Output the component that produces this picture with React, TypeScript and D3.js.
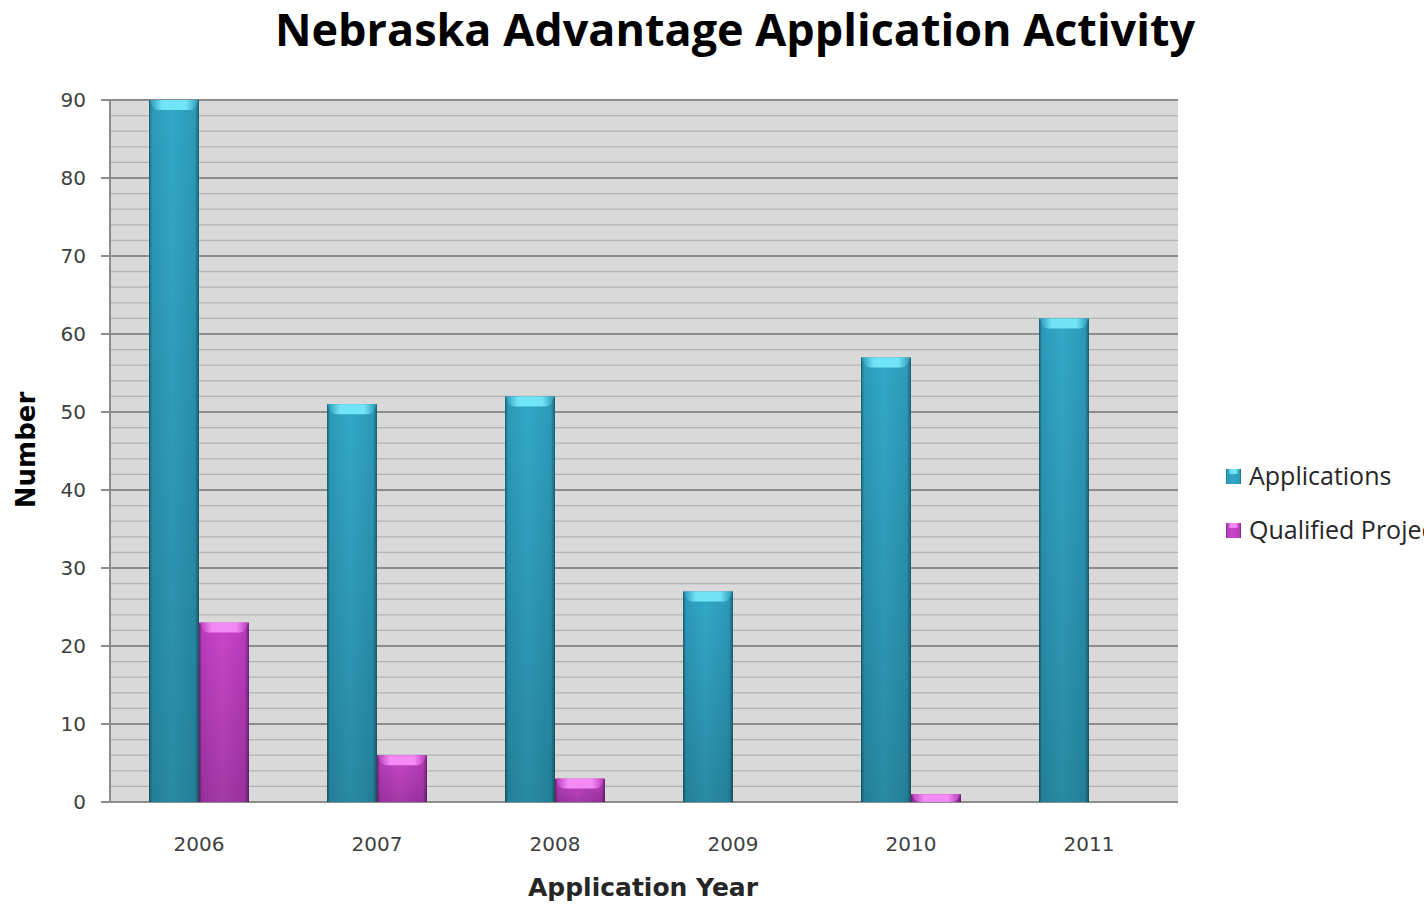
import React from "react";
import * as d3 from "d3";

const years = ["2006", "2007", "2008", "2009", "2010", "2011"];
const seriesNames = ["Applications", "Qualified Projects"];
const applications = [90, 51, 52, 27, 57, 62];
const qualified = [23, 6, 3, 0, 1, 0];
const yTicks = [0, 10, 20, 30, 40, 50, 60, 70, 80, 90];

const W = 1424;
const H = 909;
const plot = { left: 110, right: 1178, top: 100, bottom: 802 };

const palette = [
  { edge: "#1b5f70", mid: "#2b9ab9", light: "#33a8c7", cap: "#72e4f7" },
  { edge: "#6c2472", mid: "#b93bbd", light: "#c747c9", cap: "#f48af4" },
];

export default function App() {
  const x = d3.scaleBand().domain(years).range([plot.left, plot.right]).padding(0);
  const xs = d3
    .scaleBand()
    .domain(seriesNames)
    .range([0, x.bandwidth()])
    .paddingInner(0)
    .paddingOuter(0.78);
  const y = d3.scaleLinear().domain([0, 90]).range([plot.bottom, plot.top]);
  const minor = d3.range(0, 91, 2).filter((v) => v % 10 !== 0);
  const data = [applications, qualified];

  return (
    <svg
      width={W}
      height={H}
      style={{ position: "absolute", left: 0, top: 0, background: "#fff" }}
    >
      <defs>
        {palette.map((p, i) => (
          <React.Fragment key={i}>
            <linearGradient id={`bar${i}`} x1="0" x2="1" y1="0" y2="0">
              <stop offset="0" stopColor={p.edge} />
              <stop offset="0.06" stopColor={p.mid} />
              <stop offset="0.45" stopColor={p.light} />
              <stop offset="0.92" stopColor={p.mid} />
              <stop offset="1" stopColor={p.edge} />
            </linearGradient>
            <linearGradient id={`cap${i}`} x1="0" x2="1" y1="0" y2="0">
              <stop offset="0" stopColor={p.mid} />
              <stop offset="0.25" stopColor={p.cap} />
              <stop offset="0.75" stopColor={p.cap} />
              <stop offset="1" stopColor={p.mid} />
            </linearGradient>
          </React.Fragment>
        ))}
        <linearGradient id="shade" x1="0" x2="0" y1="0" y2="1">
          <stop offset="0" stopColor="#000" stopOpacity="0" />
          <stop offset="1" stopColor="#000" stopOpacity="0.18" />
        </linearGradient>
      </defs>

      {/* Title */}
      <text
        x={735}
        y={46}
        textAnchor="middle"
        fontFamily="'Open Sans', sans-serif"
        fontWeight="bold"
        fontSize={44}
        fill="#000"
        textLength={920}
        lengthAdjust="spacingAndGlyphs"
      >
        Nebraska Advantage Application Activity
      </text>

      {/* Plot background */}
      <rect
        x={plot.left}
        y={plot.top}
        width={plot.right - plot.left}
        height={plot.bottom - plot.top}
        fill="#d9d9d9"
      />
      {minor.map((v) => (
        <line
          key={`m${v}`}
          x1={plot.left}
          x2={plot.right}
          y1={y(v)}
          y2={y(v)}
          stroke="#b3b3b3"
          strokeWidth={1.3}
        />
      ))}
      {yTicks.map((v) => (
        <line
          key={`g${v}`}
          x1={plot.left - 9}
          x2={plot.right}
          y1={y(v)}
          y2={y(v)}
          stroke="#8c8c8c"
          strokeWidth={2}
        />
      ))}
      <line
        x1={plot.left}
        x2={plot.left}
        y1={plot.top}
        y2={plot.bottom}
        stroke="#8c8c8c"
        strokeWidth={2}
      />

      {/* Bars */}
      {years.map((yr, i) =>
        seriesNames.map((s, k) => {
          const v = data[k][i];
          if (v <= 0) return null;
          const bx = (x(yr) as number) + (xs(s) as number);
          const bw = xs.bandwidth();
          const top = y(v);
          const h = y(0) - top;
          const capH = Math.min(10, h);
          const inset = Math.min(9, bw / 4);
          return (
            <g key={`${yr}-${s}`}>
              <rect x={bx} y={top} width={bw} height={h} fill={`url(#bar${k})`} />
              <rect x={bx} y={top} width={bw} height={h} fill="url(#shade)" />
              <path
                d={`M${bx + 1},${top}L${bx + bw - 1},${top}Q${bx + bw - inset * 0.4},${top + capH} ${bx + bw - inset},${top + capH}L${bx + inset},${top + capH}Q${bx + inset * 0.4},${top + capH} ${bx + 1},${top}Z`}
                fill={`url(#cap${k})`}
              />
            </g>
          );
        })
      )}

      {/* Y tick labels */}
      {yTicks.map((v) => (
        <text
          key={`t${v}`}
          x={86}
          y={y(v) + 7}
          textAnchor="end"
          fontFamily="'DejaVu Sans', Verdana, sans-serif"
          fontSize={20}
          fill="#404040"
        >
          {v}
        </text>
      ))}

      {/* X tick labels */}
      {years.map((yr) => (
        <text
          key={yr}
          x={(x(yr) as number) + x.bandwidth() / 2}
          y={851}
          textAnchor="middle"
          fontFamily="'DejaVu Sans', Verdana, sans-serif"
          fontSize={20}
          fill="#404040"
        >
          {yr}
        </text>
      ))}

      {/* Axis titles */}
      <text
        x={643}
        y={896}
        textAnchor="middle"
        fontFamily="'DejaVu Sans', Verdana, sans-serif"
        fontWeight="bold"
        fontSize={25}
        fill="#262626"
      >
        Application Year
      </text>
      <text
        transform="translate(35,450) rotate(-90)"
        textAnchor="middle"
        fontFamily="'DejaVu Sans', Verdana, sans-serif"
        fontWeight="bold"
        fontSize={26}
        fill="#000"
      >
        Number
      </text>

      {/* Legend */}
      {seriesNames.map((s, k) => (
        <g key={s} transform={`translate(1226, ${469 + k * 54})`}>
          <rect x={0} y={0} width={15} height={15} fill={`url(#bar${k})`} />
          <rect x={2} y={0} width={11} height={5} fill={`url(#cap${k})`} />
          <text
            x={23}
            y={16}
            fontFamily="'Open Sans', sans-serif"
            fontSize={25}
            fill="#262626"
          >
            {s}
          </text>
        </g>
      ))}
    </svg>
  );
}
